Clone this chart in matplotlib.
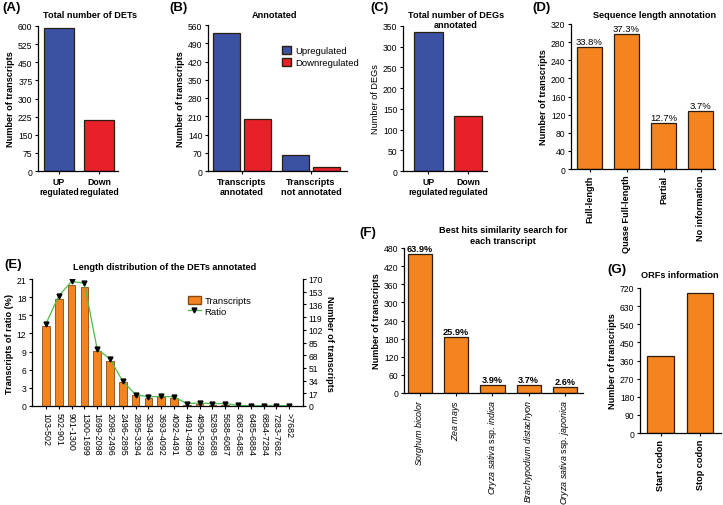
import numpy as np
import matplotlib
matplotlib.use("Agg")
import matplotlib.pyplot as plt
from matplotlib.patches import Patch
from matplotlib.lines import Line2D

plt.rcParams["font.family"] = ["Liberation Sans", "DejaVu Sans"]
plt.rcParams["mathtext.fontset"] = "custom"
plt.rcParams["mathtext.it"] = "Liberation Sans:italic"
plt.rcParams["mathtext.rm"] = "Liberation Sans"
plt.rcParams["font.size"] = 6
plt.rcParams["axes.linewidth"] = 0.9

# ---- data ----
a_labels = ["UP\nregulated", "Down\nregulated"]
a_values = [590, 210]

b_groups = ["Transcripts\nannotated", "Transcripts\nnot annotated"]
b_up = [528, 62]
b_down = [198, 16]

c_labels = ["UP\nregulated", "Down\nregulated"]
c_values = [335, 132]

d_labels = ["Full-length", "Quase Full-length", "Partial", "No information"]
d_values = [270, 298, 101, 129]
d_pct = ["33.8%", "37.3%", "12.7%", "3.7%"]

e_bins = ["103-502", "502-901", "901-1300", "1300-1699", "1699-2098", "2098-2496",
          "2496-2895", "2895-3294", "3294-3693", "3693-4092", "4092-4491",
          "4491-4890", "4890-5289", "5289-5688", "5688-6087", "6087-6485",
          "6485-6884", "6884-7284", "7283-7682", ">7682"]
e_transcripts = [13.2, 17.7, 20.0, 19.6, 9.1, 7.5, 3.9, 1.8, 1.4, 1.5, 1.3,
                 0.2, 0.3, 0.2, 0.2, 0.05, 0.0, 0.0, 0.0, 0.0]
e_ratio = [13.6, 18.2, 20.6, 20.3, 9.4, 7.8, 4.1, 1.9, 1.5, 1.6, 1.5,
           0.4, 0.5, 0.4, 0.4, 0.1, 0.05, 0.05, 0.05, 0.05]

f_labels = [r"$\it{Sorghum\ bicolor}$", r"$\it{Zea\ mays}$",
            r"$\it{Oryza\ sativa}$ ssp. $\it{indica}$",
            r"$\it{Brachypodium\ distachyon}$",
            r"$\it{Oryza\ sativa}$ ssp. $\it{japonica}$"]
f_values = [460, 186, 28, 27, 19]
f_pct = ["63.9%", "25.9%", "3.9%", "3.7%", "2.6%"]

g_labels = ["Start codon", "Stop codon"]
g_values = [382, 697]

BLUE = "#3B52A3"
RED = "#E8202A"
ORANGE = "#F3841F"
EDGE = "#2b1d10"
GREEN = "#4CBB4C"

W, H = 723, 506
fig = plt.figure(figsize=(W / 100, H / 100), dpi=100)


def px_axes(x0, y_top, x1, y_bot):
    return fig.add_axes([x0 / W, 1 - y_bot / H, (x1 - x0) / W, (y_bot - y_top) / H])


def style(ax):
    for s in ["top", "right"]:
        ax.spines[s].set_visible(False)
    ax.tick_params(direction="out", length=2.5, width=0.8, pad=1.5, labelsize=6.2)


def ftext(x, y, s, **kw):
    fig.text(x / W, 1 - y / H, s, **kw)


TITLE = 6.6

# ---- (A) ----
ax = px_axes(38, 27, 118, 172)
style(ax)
ax.bar([0, 1], a_values, width=0.75, color=[BLUE, RED], edgecolor=EDGE, linewidth=0.9)
ax.set_xlim(-0.525, 1.475)
ax.set_ylim(0, 600)
ax.set_yticks(np.arange(0, 601, 75))
ax.set_xticks([0, 1])
ax.set_xticklabels(a_labels, fontweight="bold", fontsize=6.3)
ax.set_ylabel("Number of transcripts", fontweight="bold", fontsize=6.6, labelpad=2)
ftext(90, 16, "Total number of DETs", ha="center", va="center", fontweight="bold", fontsize=TITLE)
ftext(2, 8, "(A)", ha="left", va="center", fontweight="bold", fontsize=9.5)

# ---- (B) ----
ax = px_axes(208, 26, 347, 172)
style(ax)
x = np.arange(len(b_groups))
ax.bar(x - 0.22, b_up, width=0.39, color=BLUE, edgecolor=EDGE, linewidth=0.9)
ax.bar(x + 0.22, b_down, width=0.39, color=RED, edgecolor=EDGE, linewidth=0.9)
ax.set_xlim(-0.49, 1.52)
ax.set_ylim(0, 560)
ax.set_yticks(np.arange(0, 561, 70))
ax.set_xticks(x)
ax.set_xticklabels(b_groups, fontweight="bold", fontsize=6.6)
ax.set_ylabel("Number of transcripts", fontweight="bold", fontsize=6.6, labelpad=2)
ax.legend(handles=[Patch(facecolor=BLUE, edgecolor=EDGE, label="Upregulated"),
                   Patch(facecolor=RED, edgecolor=EDGE, label="Downregulated")],
          loc="upper left", bbox_to_anchor=((277 - 208) / 139, (172 - 42) / 146),
          frameon=False, fontsize=6.8, handlelength=1.0, handleheight=1.0,
          handletextpad=0.4, labelspacing=0.25, borderpad=0)
ftext(275, 16, "Annotated", ha="center", va="center", fontweight="bold", fontsize=TITLE)
ftext(169, 8, "(B)", ha="left", va="center", fontweight="bold", fontsize=9.5)

# ---- (C) ----
ax = px_axes(403, 27, 487, 172)
style(ax)
ax.bar([0, 1], c_values, width=0.73, color=[BLUE, RED], edgecolor=EDGE, linewidth=0.9)
ax.set_xlim(-0.645, 1.48)
ax.set_ylim(0, 350)
ax.set_yticks(np.arange(0, 351, 50))
ax.set_xticks([0, 1])
ax.set_xticklabels(c_labels, fontweight="bold", fontsize=6.3)
ax.set_ylabel("Number of DEGs", fontsize=6.6, labelpad=2)
ftext(456, 20.5, "Total number of DEGs\nannotated", ha="center", va="center",
      fontweight="bold", fontsize=TITLE, linespacing=1.15)
ftext(370, 8, "(C)", ha="left", va="center", fontweight="bold", fontsize=9.5)

# ---- (D) ----
ax = px_axes(571, 25, 715, 170)
style(ax)
x = np.arange(len(d_labels))
ax.bar(x, d_values, width=0.68, color=ORANGE, edgecolor=EDGE, linewidth=0.9)
for xi, v, p in zip(x, d_values, d_pct):
    ax.text(xi, v + 2, p, ha="center", va="bottom", fontsize=6.8)
ax.set_xlim(-0.5, 3.39)
ax.set_ylim(0, 320)
ax.set_yticks(np.arange(0, 321, 40))
ax.set_xticks(x)
ax.set_xticklabels(d_labels, rotation=90, fontweight="bold", fontsize=6.6)
ax.set_ylabel("Number of transcripts", fontweight="bold", fontsize=6.6, labelpad=2)
ftext(655, 16, "Sequence length annotation", ha="center", va="center",
      fontweight="bold", fontsize=TITLE)
ftext(532, 8, "(D)", ha="left", va="center", fontweight="bold", fontsize=9.5)

# ---- (E) ----
ax = px_axes(32, 280, 303, 407)
style(ax)
x = np.arange(len(e_bins))
ax.bar(x, e_transcripts, width=0.6, color=ORANGE, edgecolor="#8a4a10", linewidth=0.6)
ax.plot(x, e_ratio, color=GREEN, linewidth=0.9, marker="v", markersize=3.5,
        markerfacecolor="black", markeredgecolor="black")
ax.set_xlim(-1.09, 20.08)
ax.set_ylim(0, 21)
ax.set_yticks(np.arange(0, 22, 3))
ax.set_xticks(x)
ax.set_xticklabels(e_bins, rotation=-90, fontsize=6.4)
ax.set_ylabel("Transcripts of ratio (%)", fontweight="bold", fontsize=6.6, labelpad=2)
ax.legend(handles=[Patch(facecolor=ORANGE, edgecolor="#8a4a10", label="Transcripts"),
                   Line2D([0], [0], color=GREEN, linewidth=0.9, marker="v",
                          markersize=3.5, markerfacecolor="black",
                          markeredgecolor="black", label="Ratio")],
          loc="upper left", bbox_to_anchor=((183 - 32) / 271, (407 - 292) / 127),
          frameon=False, fontsize=6.8, handlelength=1.4, handleheight=0.9,
          handletextpad=0.4, labelspacing=0.2, borderpad=0)
ax2 = ax.twinx()
for s in ["top", "left", "bottom"]:
    ax2.spines[s].set_visible(False)
ax2.set_ylim(0, 170)
ax2.set_yticks(np.arange(0, 171, 17))
ax2.tick_params(direction="out", length=2.5, width=0.8, pad=1.5, labelsize=6.2)
ax2.set_ylabel("Number of transcripts", fontweight="bold", fontsize=6.6,
               rotation=-90, labelpad=8)
ftext(165, 268, "Length distribution of the DETs annotated", ha="center", va="center",
      fontweight="bold", fontsize=TITLE)
ftext(4, 265, "(E)", ha="left", va="center", fontweight="bold", fontsize=9.5)

# ---- (F) ----
ax = px_axes(404, 249, 583, 394)
style(ax)
x = np.arange(len(f_labels))
ax.bar(x, f_values, width=0.67, color=ORANGE, edgecolor=EDGE, linewidth=0.9)
for xi, v, p in zip(x, f_values, f_pct):
    ax.text(xi, v + 3, p, ha="center", va="bottom", fontsize=6.6, fontweight="bold")
ax.set_xlim(-0.44, 4.5)
ax.set_ylim(0, 480)
ax.set_yticks(np.arange(0, 481, 60))
ax.set_xticks(x)
ax.set_xticklabels(f_labels, rotation=90, fontsize=6.4)
ax.set_ylabel("Number of transcripts", fontweight="bold", fontsize=6.6, labelpad=2)
ftext(503, 236, "Best hits similarity search for\neach transcript", ha="center",
      va="center", fontweight="bold", fontsize=TITLE, linespacing=1.3)
ftext(359, 233, "(F)", ha="left", va="center", fontweight="bold", fontsize=9.5)

# ---- (G) ----
ax = px_axes(640, 289, 721, 434)
style(ax)
ax.bar([0, 1], g_values, width=0.68, color=ORANGE, edgecolor=EDGE, linewidth=0.9)
ax.set_xlim(-0.52, 1.53)
ax.set_ylim(0, 720)
ax.set_yticks(np.arange(0, 721, 90))
ax.set_xticks([0, 1])
ax.set_xticklabels(g_labels, rotation=90, fontweight="bold", fontsize=6.6)
ax.set_ylabel("Number of transcripts", fontweight="bold", fontsize=6.6, labelpad=2)
ftext(680, 276, "ORFs information", ha="center", va="center", fontweight="bold", fontsize=TITLE)
ftext(607, 270, "(G)", ha="left", va="center", fontweight="bold", fontsize=9.5)

fig.savefig("out.png", dpi=100)
